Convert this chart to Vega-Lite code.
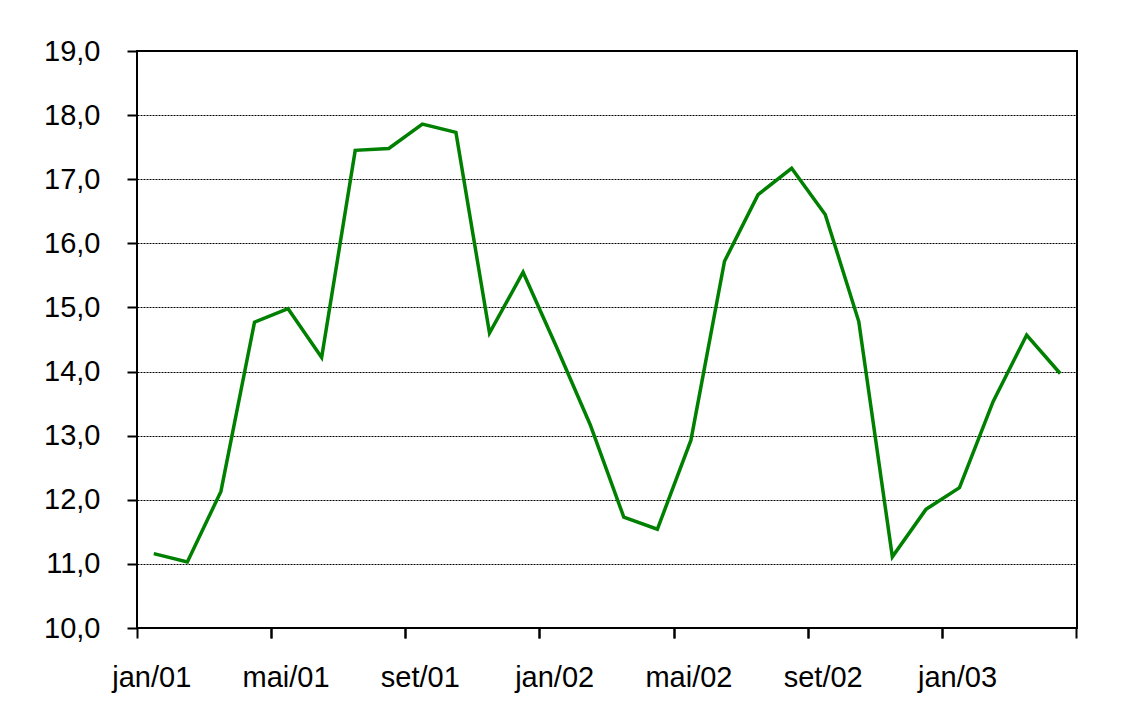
{
  "$schema": "https://vega.github.io/schema/vega-lite/v6.json",
  "width": 940,
  "height": 577,
  "autosize": {"type": "none"},
  "padding": {"left": 137, "top": 51, "right": 69, "bottom": 85},
  "background": "white",
  "config": {
    "view": {"stroke": "black", "strokeWidth": 2},
    "font": "Liberation Sans",
    "axis": {"labelFont": "Liberation Sans", "labelColor": "black"}
  },
  "data": {
    "values": [
      {"mes": "jan/01", "valor": 11.16},
      {"mes": "fev/01", "valor": 11.03},
      {"mes": "mar/01", "valor": 12.13},
      {"mes": "abr/01", "valor": 14.77},
      {"mes": "mai/01", "valor": 14.98},
      {"mes": "jun/01", "valor": 14.22},
      {"mes": "jul/01", "valor": 17.45},
      {"mes": "ago/01", "valor": 17.48},
      {"mes": "set/01", "valor": 17.86},
      {"mes": "out/01", "valor": 17.73},
      {"mes": "nov/01", "valor": 14.60},
      {"mes": "dez/01", "valor": 15.55},
      {"mes": "jan/02", "valor": 14.38},
      {"mes": "fev/02", "valor": 13.17},
      {"mes": "mar/02", "valor": 11.73},
      {"mes": "abr/02", "valor": 11.54},
      {"mes": "mai/02", "valor": 12.93},
      {"mes": "jun/02", "valor": 15.72},
      {"mes": "jul/02", "valor": 16.76},
      {"mes": "ago/02", "valor": 17.17},
      {"mes": "set/02", "valor": 16.45},
      {"mes": "out/02", "valor": 14.78},
      {"mes": "nov/02", "valor": 11.11},
      {"mes": "dez/02", "valor": 11.85},
      {"mes": "jan/03", "valor": 12.19},
      {"mes": "fev/03", "valor": 13.53},
      {"mes": "mar/03", "valor": 14.57},
      {"mes": "abr/03", "valor": 13.97}
    ]
  },
  "resolve": {"axis": {"x": "independent"}},
  "layer": [
    {
      "mark": {"type": "point", "opacity": 0},
      "encoding": {
        "x": {
          "field": "mes", "type": "ordinal", "sort": null,
          "scale": {"type": "band", "paddingInner": 0, "paddingOuter": 0},
          "axis": {
            "orient": "bottom", "title": null,
            "values": ["abr/01", "ago/01", "dez/01", "abr/02", "ago/02", "dez/02", "abr/03"],
            "bandPosition": 1, "labels": false, "domain": false, "grid": false,
            "ticks": true, "tickSize": 10, "tickWidth": 2, "tickColor": "black"
          }
        }
      }
    },
    {
      "mark": {"type": "line", "color": "#008000", "strokeWidth": 3.5},
      "encoding": {
        "x": {
          "field": "mes", "type": "ordinal", "sort": null,
          "scale": {"type": "band", "paddingInner": 0, "paddingOuter": 0},
          "axis": {
            "orient": "bottom", "title": null,
            "values": ["jan/01", "mai/01", "set/01", "jan/02", "mai/02", "set/02", "jan/03"],
            "bandPosition": 0, "labelOffset": -2, "labelAngle": 0,
            "labelFontSize": 29, "labelPadding": 25, "labelColor": "black",
            "domain": false, "grid": false,
            "ticks": true, "tickSize": 10, "tickWidth": 2, "tickColor": "black"
          }
        },
        "y": {
          "field": "valor", "type": "quantitative",
          "scale": {"domain": [10, 19], "nice": false, "zero": false},
          "axis": {
            "title": null,
            "values": [10, 11, 12, 13, 14, 15, 16, 17, 18, 19],
            "labelExpr": "replace(format(datum.value, '.1f'), '.', ',')",
            "labelFontSize": 29, "labelPadding": 27, "labelColor": "black",
            "domain": false,
            "ticks": true, "tickSize": 10, "tickWidth": 2, "tickColor": "black",
            "grid": true, "gridColor": "black", "gridWidth": 1, "gridDash": [2, 1], "gridOpacity": 1
          }
        }
      }
    }
  ]
}
